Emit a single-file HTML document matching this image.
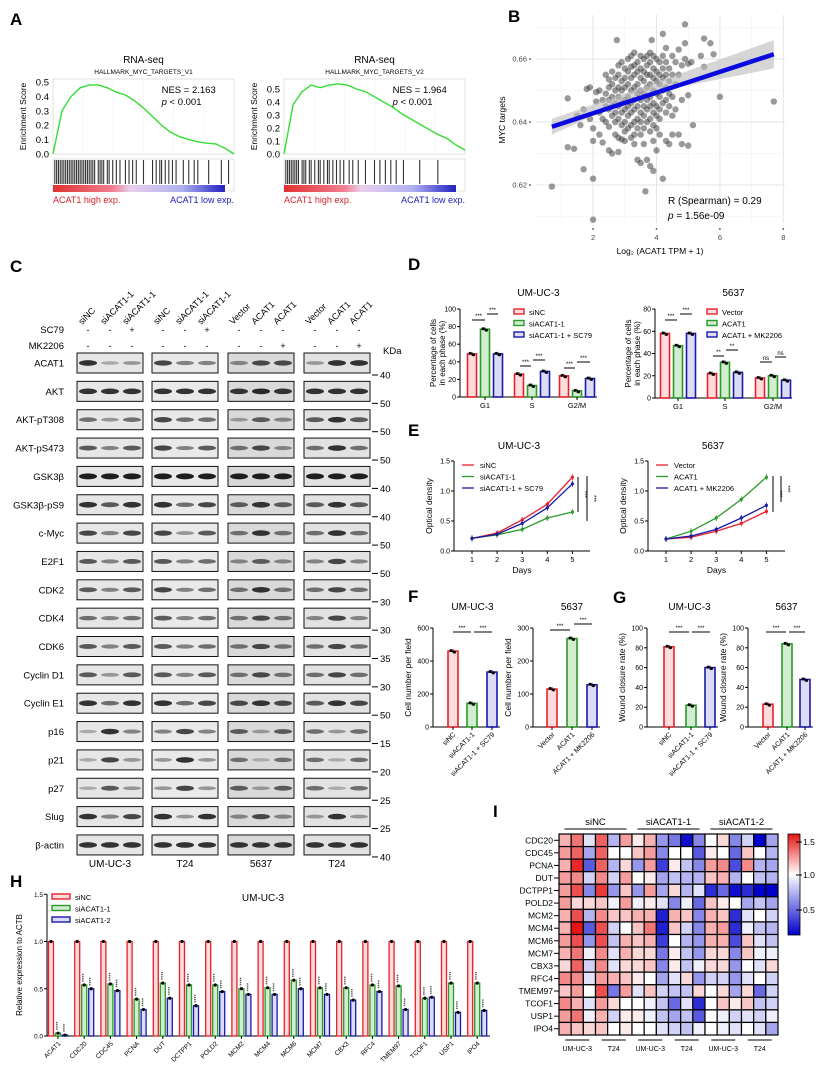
<!DOCTYPE html>
<html><head><meta charset="utf-8">
<style>
html,body{margin:0;padding:0;background:#fff;}
svg{display:block;font-family:"Liberation Sans",Arial,sans-serif;}
</style></head>
<body>
<svg id="fig" width="824" height="1076" viewBox="0 0 824 1076" xmlns="http://www.w3.org/2000/svg">
<rect width="824" height="1076" fill="#fff"/>
<g font-weight="bold" font-size="17" fill="#000">
<text x="10" y="25">A</text>
<text x="508" y="22">B</text>
<text x="10" y="272">C</text>
<text x="408" y="270">D</text>
<text x="408" y="436">E</text>
<text x="408" y="602">F</text>
<text x="613" y="603">G</text>
<text x="10" y="887">H</text>
<text x="493" y="817">I</text>
</g>
<g id="root"></g>
</svg>
<script>
// ---------- DATA ----------
const gseaES1 = [0,0.30,0.40,0.46,0.48,0.48,0.46,0.43,0.41,0.37,0.32,0.26,0.20,0.15,0.12,0.10,0.085,0.075,0.07,0.04,0.0];
const gseaES2 = [0,0.38,0.48,0.53,0.51,0.53,0.54,0.53,0.50,0.48,0.44,0.40,0.36,0.31,0.27,0.23,0.19,0.15,0.12,0.07,0.03];
const gseaHits1 = [0.01,0.02,0.03,0.04,0.05,0.06,0.07,0.08,0.09,0.10,0.11,0.12,0.13,0.14,0.15,0.16,0.17,0.18,0.19,0.2,0.21,0.22,0.23,0.25,0.26,0.27,0.28,0.3,0.31,0.33,0.35,0.37,0.4,0.42,0.44,0.46,0.5,0.55,0.57,0.59,0.6,0.62,0.64,0.66,0.68,0.72,0.75,0.78,0.8,0.86,0.93,0.97];
const gseaHits2 = [0.01,0.02,0.03,0.04,0.05,0.06,0.07,0.08,0.1,0.11,0.12,0.14,0.15,0.17,0.19,0.2,0.22,0.24,0.25,0.27,0.29,0.31,0.33,0.36,0.38,0.41,0.45,0.5,0.53,0.56,0.59,0.62,0.66,0.75,0.85];
const scatterX = [0.7,1.2,1.2,1.4,1.5,1.6,1.7,1.7,1.8,1.9,1.9,2.0,2.0,2.0,2.0,2.1,2.1,2.2,2.2,2.2,2.3,2.3,2.3,2.4,2.4,2.4,2.4,2.5,2.5,2.5,2.5,2.5,2.5,2.6,2.6,2.6,2.6,2.6,2.6,2.7,2.7,2.7,2.7,2.7,2.7,2.8,2.8,2.8,2.8,2.8,2.8,2.8,2.8,2.75,2.9,2.9,2.9,2.9,2.9,2.9,2.9,3.0,3.0,3.0,3.0,3.0,3.0,3.0,3.0,3.1,3.1,3.1,3.1,3.1,3.1,3.1,3.2,3.2,3.2,3.2,3.2,3.2,3.2,3.2,3.3,3.3,3.3,3.3,3.3,3.3,3.3,3.3,3.3,3.4,3.4,3.4,3.4,3.4,3.4,3.4,3.4,3.5,3.5,3.5,3.5,3.5,3.5,3.5,3.5,3.5,3.6,3.6,3.6,3.6,3.6,3.6,3.6,3.6,3.65,3.7,3.7,3.7,3.7,3.7,3.7,3.7,3.7,3.8,3.8,3.8,3.8,3.8,3.8,3.8,3.8,3.8,3.85,3.9,3.9,3.9,3.9,3.9,3.9,3.9,3.9,3.9,4.0,4.0,4.0,4.0,4.0,4.0,4.0,4.0,4.1,4.1,4.1,4.1,4.1,4.1,4.1,4.2,4.2,4.2,4.2,4.2,4.2,4.2,4.3,4.3,4.3,4.3,4.3,4.3,4.3,4.4,4.4,4.4,4.4,4.4,4.5,4.5,4.5,4.5,4.5,4.6,4.6,4.6,4.7,4.7,4.7,4.8,4.8,4.8,4.9,4.9,4.9,5.0,5.0,5.0,5.1,5.15,5.4,5.5,5.5,5.7,5.8,6.0,7.7];
const scatterY = [0.6195,0.6475,0.632,0.6315,0.642,0.639,0.644,0.625,0.6505,0.651,0.641,0.638,0.634,0.622,0.609,0.6495,0.6465,0.650,0.643,0.636,0.647,0.641,0.6335,0.655,0.649,0.645,0.640,0.6535,0.651,0.647,0.644,0.6385,0.631,0.656,0.652,0.648,0.645,0.642,0.630,0.654,0.650,0.646,0.643,0.640,0.636,0.658,0.655,0.651,0.648,0.645,0.641,0.635,0.6305,0.666,0.659,0.653,0.650,0.646,0.643,0.639,0.6345,0.657,0.654,0.651,0.647,0.644,0.640,0.637,0.634,0.660,0.656,0.652,0.648,0.645,0.642,0.638,0.661,0.6575,0.654,0.650,0.646,0.643,0.639,0.635,0.662,0.658,0.655,0.651,0.647,0.644,0.640,0.636,0.633,0.659,0.656,0.652,0.649,0.645,0.641,0.638,0.628,0.661,0.657,0.654,0.650,0.647,0.643,0.640,0.636,0.627,0.660,0.656,0.653,0.649,0.645,0.642,0.638,0.633,0.618,0.661,0.658,0.655,0.651,0.647,0.644,0.640,0.628,0.662,0.659,0.655,0.652,0.648,0.645,0.641,0.637,0.626,0.666,0.661,0.657,0.654,0.650,0.646,0.643,0.639,0.634,0.6245,0.660,0.656,0.653,0.649,0.645,0.642,0.638,0.631,0.659,0.655,0.652,0.648,0.644,0.641,0.636,0.668,0.661,0.657,0.654,0.650,0.646,0.622,0.6635,0.659,0.655,0.651,0.647,0.643,0.634,0.657,0.653,0.649,0.645,0.633,0.661,0.655,0.648,0.642,0.636,0.659,0.652,0.644,0.663,0.655,0.636,0.658,0.647,0.633,0.665,0.671,0.660,0.6585,0.6485,0.6325,0.659,0.639,0.661,0.6575,0.6665,0.665,0.6615,0.648,0.6465];
const fitLine = [[0.7,0.6385],[7.7,0.6615]];

const blotRows = ["ACAT1","AKT","AKT-pT308","AKT-pS473","GSK3β","GSK3β-pS9","c-Myc","E2F1","CDK2","CDK4","CDK6","Cyclin D1","Cyclin E1","p16","p21","p27","Slug","β-actin"];
const blotMW = [40,50,50,50,40,40,50,50,30,30,35,30,50,15,20,25,25,40];
const blotInt = [
[.9,.3,.4,.8,.5,.5,.5,.8,.8,.4,.9,.9],[.9,.9,.9,.9,.9,.9,.9,.95,.9,.9,.9,.9],
[.6,.4,.6,.8,.6,.6,.4,.7,.5,.7,.9,.7],[.7,.5,.7,.8,.5,.7,.6,.8,.5,.6,.9,.6],
[1,1,1,1,1,1,1,1,1,1,1,1],[.9,.7,.9,.9,.6,.8,.7,.9,.7,.7,.9,.7],
[.8,.5,.8,.8,.4,.7,.6,.9,.6,.6,.9,.6],[.7,.5,.7,.7,.5,.6,.5,.7,.5,.5,.8,.5],
[.7,.5,.7,.8,.5,.6,.6,.9,.6,.6,.8,.6],[.6,.5,.6,.7,.5,.6,.6,.8,.6,.5,.8,.5],
[.7,.5,.7,.7,.5,.6,.6,.8,.6,.6,.8,.6],[.7,.4,.7,.7,.5,.7,.6,.8,.6,.6,.8,.6],
[.9,.6,.9,.9,.6,.8,.8,.9,.8,.7,.9,.8],[.3,.9,.5,.5,.8,.5,.7,.4,.7,.6,.4,.6],
[.3,.8,.4,.4,.9,.4,.6,.3,.6,.6,.3,.6],[.3,.7,.4,.4,.8,.4,.7,.4,.7,.6,.3,.6],
[.9,.5,.8,.9,.4,.9,.5,.8,.5,.4,.9,.4],[.9,.9,.9,.9,.9,.9,.9,.9,.9,.9,.9,.9]];
const laneLabels = ["siNC","siACAT1-1","siACAT1-1","siNC","siACAT1-1","siACAT1-1","Vector","ACAT1","ACAT1","Vector","ACAT1","ACAT1"];
const sc79 = ["-","-","+","-","-","+","-","-","-","-","-","-"];
const mk2206 = ["-","-","-","-","-","-","-","-","+","-","-","+"];
const cellLines = ["UM-UC-3","T24","5637","T24"];

const phases = ["G1","S","G2/M"];
const dUMUC3 = [[49,26,24],[77,13,7],[49,29,21]];
const d5637 = [[58,22,18],[47,32,20],[58,23,16]];

const days = [1,2,3,4,5];
const eUMUC3 = [[0.21,0.30,0.52,0.78,1.23],[0.21,0.27,0.36,0.55,0.65],[0.21,0.28,0.46,0.72,1.12]];
const e5637 = [[0.20,0.23,0.33,0.46,0.66],[0.20,0.33,0.55,0.86,1.23],[0.20,0.25,0.36,0.55,0.76]];

const fUMUC3 = [460,143,333];
const f5637 = [115,268,128];
const gUMUC3 = [81,22,60];
const g5637 = [23,84,48];

const hGenes = ["ACAT1","CDC20","CDC45","PCNA","DUT","DCTPP1","POLD2","MCM2","MCM4","MCM6","MCM7","CBX3","RFC4","TMEM97","TCOF1","USP1","IPO4"];
const hSiNC = [1,1,1,1,1,1,1,1,1,1,1,1,1,1,1,1,1];
const hSi1 = [0.03,0.54,0.55,0.39,0.56,0.54,0.54,0.50,0.51,0.59,0.51,0.51,0.54,0.53,0.40,0.56,0.56];
const hSi2 = [0.01,0.50,0.48,0.28,0.40,0.32,0.47,0.44,0.44,0.50,0.44,0.38,0.47,0.28,0.41,0.25,0.27];

const heatGenes = ["CDC20","CDC45","PCNA","DUT","DCTPP1","POLD2","MCM2","MCM4","MCM6","MCM7","CBX3","RFC4","TMEM97","TCOF1","USP1","IPO4"];
const heatVals = [
[1.2,1.35,0.9,1.4,0.75,1.25,1.05,1.2,0.65,0.55,0.2,0.6,1.0,1.1,0.6,0.85,0.15,0.7],
[1.25,1.4,0.7,1.4,1.0,1.0,1.15,1.25,0.6,1.0,1.0,0.45,1.05,1.0,0.5,1.15,1.0,0.75],
[1.2,1.55,0.45,1.4,0.75,1.1,0.65,1.25,0.35,1.05,0.8,0.6,1.25,1.3,0.4,1.3,0.75,0.7],
[1.25,1.3,0.85,1.3,0.85,1.25,1.0,1.05,0.7,0.8,0.75,0.75,1.15,1.2,0.75,1.0,0.8,0.75],
[1.25,1.45,0.6,1.5,0.65,1.15,0.65,1.25,0.7,1.1,0.75,0.9,0.3,0.5,0.2,0.3,0.15,0.15],
[1.25,1.1,1.1,1.15,0.95,1.25,0.95,1.05,0.9,0.6,0.95,0.5,1.15,1.05,1.0,0.7,0.8,0.7],
[1.2,1.45,0.75,1.3,1.15,1.15,1.2,1.2,0.25,1.2,1.15,0.6,1.2,1.15,0.3,0.9,1.0,0.85],
[1.2,1.6,0.45,1.45,0.85,1.0,1.15,1.35,0.25,1.15,0.85,0.6,1.2,1.25,0.3,0.95,0.8,0.75],
[1.25,1.45,0.65,1.45,0.8,1.2,1.15,1.2,0.35,1.0,0.75,0.65,1.2,1.2,0.4,1.15,0.9,0.8],
[1.2,1.35,0.95,1.3,0.9,1.2,1.1,1.1,0.55,1.05,0.8,0.65,1.1,1.1,0.6,1.15,0.95,0.95],
[1.1,1.4,0.85,1.3,0.9,1.1,1.1,1.15,0.6,1.05,0.8,0.95,1.1,1.1,0.65,1.0,0.9,1.1],
[1.3,1.3,0.9,1.25,1.2,1.15,1.05,1.0,0.7,0.9,1.1,0.65,0.85,0.85,0.65,0.9,1.0,0.85],
[1.15,1.25,1.0,1.45,0.55,1.25,0.9,1.15,0.85,0.8,0.8,1.1,1.0,1.1,0.7,1.1,0.5,0.85],
[1.3,1.2,0.9,1.25,1.1,1.0,1.0,0.95,0.8,0.5,0.9,0.3,1.0,1.15,1.05,1.15,0.8,0.85],
[1.25,1.35,0.95,1.2,0.85,1.05,1.05,0.95,0.8,0.7,0.8,0.45,1.0,0.95,0.85,0.9,0.85,0.95],
[1.2,1.15,1.1,1.15,1.0,1.05,1.0,1.0,0.9,0.85,0.8,0.95,1.0,0.95,0.9,1.0,0.9,0.7]];
const heatGroups = ["siNC","siACAT1-1","siACAT1-2"];

// ---------- HELPERS ----------
const NS = "http://www.w3.org/2000/svg";
const root = document.getElementById("root");
function mk(tag, attrs, parent){ const e=document.createElementNS(NS,tag); for(const k in attrs) e.setAttribute(k,attrs[k]); (parent||root).appendChild(e); return e; }
function tx(x,y,s,size,anchor,parent,fill,rot){ const e=mk("text",{x:x,y:y,"font-size":size,"text-anchor":anchor||"start",fill:fill||"#000"},parent); if(rot!==undefined) e.setAttribute("transform","rotate("+rot+" "+x+" "+y+")"); e.textContent=s; return e; }
const RED="#e8202a", GREEN="#2a9a2a", BLUE="#1a1aa8";
const COLS=[RED,GREEN,BLUE], TINT=["#fcdcdc","#d2ecd0","#dcdcf6"];

// ---------- PANEL A ----------
function gsea(x0,x1,yTop,zeroY,pxPer,maxT,es,hits,title,sub,nes,name){
  const g=mk("g",{});
  
  
  let t=tx((x0+x1)/2,63,title,10,"middle",g);  
  t=tx((x0+x1)/2,74,sub,6.5,"middle",g);  
  const box=mk("rect",{x:x0,y:yTop,width:x1-x0,height:zeroY-yTop,fill:"#fff",stroke:"#ccc","stroke-width":0.6},g);
   
  for(let i=1;i<6;i++){ const gl=mk("line",{x1:x0+(x1-x0)*i/6,x2:x0+(x1-x0)*i/6,y1:yTop,y2:zeroY,stroke:"#eee","stroke-width":0.5},g);   }
  for(let v=0;v<=maxT+1e-9;v+=0.1){ const y=zeroY-v*pxPer;
    const lb=tx(x0-4,y+3.5,v.toFixed(1),9.5,"end",g);   }
  const yl=tx(x0-27,(yTop+zeroY)/2,"Enrichment Score",8.5,"middle",g,"#000",-90);  
  const pts=es.map((v,i)=>(x0+(x1-x0)*i/(es.length-1)).toFixed(1)+","+(zeroY-v*pxPer).toFixed(1)).join(" ");
  const pl=mk("polyline",{points:pts,fill:"none",stroke:"#33dd33","stroke-width":1.4},g);  
  const bb=mk("rect",{x:x0,y:zeroY+5,width:x1-x0,height:32,fill:"#fff",stroke:"#ccc","stroke-width":0.6},g);  
  hits.forEach(h=>{ const xx=x0+(x1-x0)*h; const l=mk("line",{x1:xx,x2:xx,y1:zeroY+6,y2:zeroY+30,stroke:"#333","stroke-width":1.1},g);   });
  const gid="grad"+name; const defs=mk("defs",{},g); const lg=mk("linearGradient",{id:gid},defs);
  mk("stop",{offset:"0","stop-color":"#e03030"},lg); mk("stop",{offset:"0.35","stop-color":"#f08090"},lg); mk("stop",{offset:"0.45","stop-color":"#e8d0ec"},lg); mk("stop",{offset:"0.75","stop-color":"#b0b0f0"},lg); mk("stop",{offset:"1","stop-color":"#2020c0"},lg);
  const cs=mk("rect",{x:x0,y:zeroY+31,width:(x1-x0)*0.95,height:7,fill:"url(#"+gid+")"},g);  
  t=tx(x0,zeroY+49,"ACAT1 high exp.",9,"start",g,"#d8202a");  
  t=tx(x1,zeroY+49,"ACAT1 low exp.",9,"end",g,"#1a1ac0");  
  t=tx(x0+(x1-x0)*0.6,yTop+14,"NES = "+nes,9.5,"start",g);  
  t=mk("text",{x:x0+(x1-x0)*0.6,y:yTop+26,"font-size":9.5},g); t.innerHTML='<tspan font-style="italic">p</tspan> &lt; 0.001';  
}
gsea(53,234,79,154,144,0.5,gseaES1,gseaHits1,"RNA-seq","HALLMARK_MYC_TARGETS_V1","2.163","gsea-plot-v1");
gsea(284,465,79,154,130,0.5,gseaES2,gseaHits2,"RNA-seq","HALLMARK_MYC_TARGETS_V2","1.964","gsea-plot-v2");

// ---------- PANEL B ----------
(function(){
  const g=mk("g",{});  
  const sx=v=>529.7+v*31.7, sy=v=>122-(v-0.64)*3150;
  const L=536,R=785,T=15,B=223;
  [1,2,3,4,5,6,7,8].forEach(v=>{ const l=mk("line",{x1:sx(v),x2:sx(v),y1:T,y2:B,stroke:v%2?"#f0f0f0":"#e4e4e4","stroke-width":v%2?0.6:1},g);   });
  [0.61,0.62,0.63,0.64,0.65,0.66,0.67].forEach((v,i)=>{ const l=mk("line",{x1:L,x2:R,y1:sy(v),y2:sy(v),stroke:i%2?"#e4e4e4":"#f0f0f0","stroke-width":i%2?1:0.6},g);   });
  [0.62,0.64,0.66].forEach(v=>{ const t=tx(L-9,sy(v)+2.5,v.toFixed(2),7.5,"end",g,"#444");  
    const d=mk("circle",{cx:L-6,cy:sy(v),r:0.9,fill:"#444"},g);   });
  [2,4,6,8].forEach(v=>{ const t=tx(sx(v),240,String(v),7.5,"middle",g,"#444");  
    const d=mk("circle",{cx:sx(v),cy:B+6,r:0.9,fill:"#444"},g);   });
  let t=tx(660,254,"Log₂ (ACAT1 TPM + 1)",8.5,"middle",g);  
  t=tx(505,120,"MYC targets",8.5,"middle",g,"#000",-90);  
  scatterX.forEach((xv,i)=>{ const c=mk("circle",{cx:sx(xv),cy:sy(scatterY[i]),r:3.2,fill:"#333","fill-opacity":0.5},g);   });
  const a=fitLine[0], b=fitLine[1];
  const band=mk("polygon",{points:[sx(a[0]),sy(a[1]+0.0025),sx((a[0]+b[0])/2-0.8),sy(0.6495+0.001),sx(b[0]),sy(b[1]+0.0045),sx(b[0]),sy(b[1]-0.0045),sx((a[0]+b[0])/2-0.8),sy(0.6495-0.001),sx(a[0]),sy(a[1]-0.0025)].join(" "),fill:"#bbb","fill-opacity":0.6},g);
   
  const ln=mk("line",{x1:sx(a[0]),y1:sy(a[1]),x2:sx(b[0]),y2:sy(b[1]),stroke:"#0a0ae0","stroke-width":4.5},g);  
  t=tx(668,204,"R (Spearman) = 0.29",10,"start",g);  
  t=mk("text",{x:668,y:219,"font-size":10},g); t.innerHTML='<tspan font-style="italic">p</tspan> = 1.56e-09';  
})();

// ---------- PANEL C ----------
(function(){
  const g=mk("g",{});  
  const gx=[77,152,228,304], gw=66, y0=353, pitch=28.35, bh=20;
  const bg=["#e6e6e6","#e9e9e9","#d9d9d9","#e2e2e2"];
  const laneX=i=>gx[Math.floor(i/3)]+gw*(1+2*(i%3))/6;
  laneLabels.forEach((s,i)=>{ const t=tx(laneX(i)-6,325,s,9,"start",g,"#000",-45);   });
  let t=tx(64,333,"SC79",9.5,"end",g);  
  t=tx(64,349,"MK2206",9.5,"end",g);  
  sc79.forEach((s,i)=>{ const e=tx(laneX(i),333,s,9,"middle",g);   });
  mk2206.forEach((s,i)=>{ const e=tx(laneX(i),349,s,9,"middle",g);   });
  t=tx(383,354,"KDa",9.5,"start",g);  
  blotRows.forEach((name,r)=>{
    const y=y0+r*pitch;
    const lb=tx(64,y+13.5,name,9.5,"end",g);  
    gx.forEach((x,k)=>{ const b=mk("rect",{x:x,y:y,width:gw,height:bh,fill:bg[k],stroke:"#111","stroke-width":1},g);   });
    blotInt[r].forEach((v,i)=>{ const c=Math.round(230-v*200); const e=mk("ellipse",{cx:laneX(i),cy:y+bh/2,rx:9,ry:1.2+v*1.8,fill:"rgb("+c+","+c+","+c+")"},g);   });
    const tk=mk("line",{x1:372,x2:378,y1:y+bh+2,y2:y+bh+2,stroke:"#000","stroke-width":1},g);  
    const mw=tx(380,y+bh+5.5,String(blotMW[r]),9.5,"start",g);  
  });
  cellLines.forEach((s,k)=>{ const e=tx(gx[k]+gw/2,867,s,10,"middle",g);   });
})();

// ---------- generic axis ----------
function yAxis(g,x,y0,y1,ticks,fmt,scale,fs){
  const a=mk("line",{x1:x,x2:x,y1:y1,y2:y0,stroke:"#000","stroke-width":1},g);  
  ticks.forEach(v=>{ const y=scale(v); const l=mk("line",{x1:x-3,x2:x,y1:y,y2:y,stroke:"#000","stroke-width":1},g);  
    const t=tx(x-4,y+2.5,fmt(v),fs||7,"end",g);   });
}
function sig(g,x1,x2,y,s){ const l=mk("line",{x1:x1,x2:x2,y1:y,y2:y,stroke:"#000","stroke-width":1},g);  
  const t=tx((x1+x2)/2,y-2,s,6,"middle",g);   }
function bar(g,cx,w,y0,y,ci){ const r=mk("rect",{x:cx-w/2,y:y,width:w,height:y0-y,fill:TINT[ci],stroke:COLS[ci],"stroke-width":1.6},g);  
  const e=mk("line",{x1:cx,x2:cx,y1:y-2,y2:y+2,stroke:"#000","stroke-width":0.8},g);  
  [-2,1.5].forEach(o=>{ const d=mk("circle",{cx:cx+o,cy:y+(o>0?1:-0.5),r:1.5,fill:"#000"},g);   }); }
function legend(g,x,y,labels,fs,sw){ labels.forEach((s,i)=>{ const r=mk("rect",{x:x,y:y+i*11.5-5,width:sw||10,height:5,fill:TINT[i],stroke:COLS[i],"stroke-width":1.4},g);  
  const t=tx(x+(sw||10)+5,y+i*11.5+1,s,fs||7.5,"start",g);   }); }

// ---------- PANEL D ----------
function phaseChart(name,ax,x1,y0,top,maxV,ticks,centers,data,title,labels,sigs){
  const g=mk("g",{});  
  const sc=v=>y0-v*(y0-top)/maxV;
  let t=tx((ax+x1)/2+10,296,title,10,"middle",g);  
  yAxis(g,ax,y0,top,ticks,v=>String(v),sc,7);
  const xa=mk("line",{x1:ax,x2:x1,y1:y0,y2:y0,stroke:"#000","stroke-width":1},g);  
  phases.forEach((p,pi)=>{ const cx=centers[pi];
    for(let s=0;s<3;s++) bar(g,cx+(s-1)*13,9,y0,sc(data[s][pi]),s);
    const tk=mk("line",{x1:cx,x2:cx,y1:y0,y2:y0+3,stroke:"#000"},g);  
    t=tx(cx,y0+11,p,7.5,"middle",g);   });
  t=tx(ax-24,(y0+top)/2,"Percentage of cells",8,"middle",g,"#000",-90);  
  t=tx(ax-15,(y0+top)/2,"in each phase (%)",8,"middle",g,"#000",-90);  
  legend(g,centers[1]-18,314,labels,7.5);
  sigs.forEach(s=>sig(g,s[0],s[1],s[2],s[3]));
}
phaseChart("cell-cycle-umuc3",460,597,397,309,100,[0,20,40,60,80,100],[485,532,577],dUMUC3,"UM-UC-3",["siNC","siACAT1-1","siACAT1-1 + SC79"],
 [[472,485,320,"***"],[487,498,314,"***"],[520,531,366,"***"],[533,545,360,"***"],[564,575,368,"***"],[577,590,362,"***"]]);
phaseChart("cell-cycle-5637",655,792,398,309,80,[0,20,40,60,80],[678,725,773],d5637,"5637",["Vector","ACAT1","ACAT1 + MK2206"],
 [[665,677,320,"***"],[680,692,314,"***"],[713,724,356,"**"],[726,738,350,"**"],[760,772,362,"ns"],[775,786,357,"ns"]]);

// ---------- PANEL E ----------
function growth(name,ax,xr,x1day,title,data,labels,sigs){
  const g=mk("g",{});  
  const y0=551, sy=v=>y0-v*60, sx=d=>x1day+(d-1)*25.1;
  let t=tx(ax+65,449,title,10,"middle",g);  
  yAxis(g,ax,y0,461,[0,0.5,1,1.5],v=>v.toFixed(1),sy,7);
  const xa=mk("line",{x1:ax,x2:xr,y1:y0,y2:y0,stroke:"#000"},g);  
  days.forEach(d=>{ const k=mk("line",{x1:sx(d),x2:sx(d),y1:y0,y2:y0+3,stroke:"#000"},g);  
    const l=tx(sx(d),y0+11,String(d),7.5,"middle",g);   });
  t=tx((ax+xr)/2,y0+22,"Days",8.5,"middle",g);  
  t=tx(ax-22,y0-45,"Optical density",8.5,"middle",g,"#000",-90);  
  data.forEach((ser,s)=>{ const pl=mk("polyline",{points:ser.map((v,i)=>sx(days[i])+","+sy(v)).join(" "),fill:"none",stroke:COLS[s],"stroke-width":1.3},g);
     
    ser.forEach((v,i)=>{ const p=mk("circle",{cx:sx(days[i]),cy:sy(v),r:1.6,fill:COLS[s]},g);  
      const e=mk("line",{x1:sx(days[i]),x2:sx(days[i]),y1:sy(v)-3,y2:sy(v)+3,stroke:COLS[s],"stroke-width":0.8},g);   }); });
  labels.forEach((s,i)=>{ const l=mk("line",{x1:ax+8,x2:ax+20,y1:465+i*11.5,y2:465+i*11.5,stroke:COLS[i],"stroke-width":1.3},g);  
    const tt=tx(ax+26,468+i*11.5,s,7.5,"start",g);   });
  sigs.forEach(s=>{ const l=mk("line",{x1:s[0],x2:s[0],y1:s[1],y2:s[2],stroke:"#000"},g);  
    const tt=tx(s[0]+5,(s[1]+s[2])/2,"***",6,"middle",g,"#000",90);   });
}
growth("growth-umuc3",454,590,472,"UM-UC-3",eUMUC3,["siNC","siACAT1-1","siACAT1-1 + SC79"],[[578,477,512],[587,476,521]]);
growth("growth-5637",648,785,666,"5637",e5637,["Vector","ACAT1","ACAT1 + MK2206"],[[773,476,512],[781,476,502]]);

// ---------- PANELS F & G ----------
function smallBar(name,ax,centers,maxV,ticks,vals,title,cats,ytitle,sigs){
  const g=mk("g",{});  
  const y0=727, top=628, sc=v=>y0-v*(y0-top)/maxV;
  let t=tx((centers[0]+centers[2])/2,610,title,10,"middle",g);  
  yAxis(g,ax,y0,top,ticks,v=>String(v),sc,7);
  const xa=mk("line",{x1:ax,x2:centers[2]+8,y1:y0,y2:y0,stroke:"#000"},g);  
  t=tx(ax-22,(y0+top)/2,ytitle,8.5,"middle",g,"#000",-90);  
  vals.forEach((v,i)=>{ bar(g,centers[i],10,y0,sc(v),i);
    const k=mk("line",{x1:centers[i],x2:centers[i],y1:y0,y2:y0+3,stroke:"#000"},g);  
    const l=tx(centers[i]+3,y0+8,cats[i],7,"end",g,"#000",-45);   });
  sigs.forEach(s=>sig(g,s[0],s[1],s[2],"***"));
}
smallBar("cell-number-umuc3",433,[453,472,492],600,[0,200,400,600],fUMUC3,"UM-UC-3",["siNC","siACAT1-1","siACAT1-1 + SC79"],"Cell number per field",[[453,471,632],[474,492,632]]);
smallBar("cell-number-5637",533,[552,572,592],300,[0,100,200,300],f5637,"5637",["Vector","ACAT1","ACAT1 + MK2206"],"Cell number per field",[[550,570,630],[574,592,624]]);
smallBar("wound-closure-umuc3",647,[669,691,710],100,[0,20,40,60,80,100],gUMUC3,"UM-UC-3",["siNC","siACAT1-1","siACAT1-1 + SC79"],"Wound closure rate (%)",[[669,689,632],[692,710,632]]);
smallBar("wound-closure-5637",748,[768,787,805],100,[0,20,40,60,80,100],g5637,"5637",["Vector","ACAT1","ACAT1 + MK2206"],"Wound closure rate (%)",[[766,786,632],[789,805,632]]);

// ---------- PANEL H ----------
(function(){
  const g=mk("g",{});  
  const ax=47, y0=1036, sc=v=>y0-v*94.5, gx=i=>51+i*26.2;
  let t=tx(263,901,"UM-UC-3",10,"middle",g);  
  yAxis(g,ax,y0,sc(1.5),[0,0.5,1,1.5],v=>v.toFixed(1),sc,6.5);
  const xa=mk("line",{x1:ax,x2:490,y1:y0,y2:y0,stroke:"#000"},g);  
  t=tx(22,965,"Relative expression to ACTB",8,"middle",g,"#000",-90);  
  const series=[hSiNC,hSi1,hSi2];
  hGenes.forEach((gn,i)=>{
    series.forEach((ser,s)=>{ const cx=gx(i)+s*7; const y=sc(ser[i]);
      const r=mk("rect",{x:cx-2.5,y:y,width:5,height:y0-y,fill:TINT[s],stroke:COLS[s],"stroke-width":1.3},g);  
      const d=mk("circle",{cx:cx,cy:y,r:1.6,fill:"#000"},g);  
      if(s>0){ const st=tx(cx+2,y-3,"****",5.5,"start",g,"#000",-90);   } });
    const k=mk("line",{x1:gx(i)+7,x2:gx(i)+7,y1:y0,y2:y0+3,stroke:"#000"},g);  
    const l=tx(gx(i)+10,y0+8,gn,6.5,"end",g,"#000",-45);  
  });
  legend(g,52,899,["siNC","siACAT1-1","siACAT1-2"],7.5,18);
})();

// ---------- PANEL I ----------
(function(){
  const g=mk("g",{});  
  const x0=559, y0=834, cw=(778-559)/18, ch=(1035-834)/16;
  function col(v){ if(v>=1){ const f=Math.min(1,(v-1)/0.6); return "rgb("+Math.round(255-f*25)+","+Math.round(255-f*235)+","+Math.round(255-f*235)+")"; }
    const f=Math.min(1,(1-v)/0.85); return "rgb("+Math.round(255-f*255)+","+Math.round(255-f*255)+","+Math.round(255-f*50)+")"; }
  heatVals.forEach((row,r)=>{
    row.forEach((v,c)=>{ const rc=mk("rect",{x:x0+c*cw,y:y0+r*ch,width:cw,height:ch,fill:col(v),stroke:"#000","stroke-width":1.2},g);   });
    const k=mk("line",{x1:x0-5,x2:x0,y1:y0+(r+0.5)*ch,y2:y0+(r+0.5)*ch,stroke:"#000"},g);  
    const l=tx(x0-6,y0+(r+0.5)*ch+3,heatGenes[r],8.5,"end",g);  
  });
  heatGroups.forEach((s,k)=>{ const cx=x0+(k*6+3)*cw;
    const l=mk("line",{x1:cx-31,x2:cx+31,y1:829,y2:829,stroke:"#000"},g);  
    const t=tx(cx,825,s,9.5,"middle",g);  
    ["UM-UC-3","T24"].forEach((c,j)=>{ const sx=x0+(k*6+j*3+1.5)*cw;
      const b=mk("line",{x1:sx-12,x2:sx+12,y1:1040,y2:1040,stroke:"#000"},g);  
      const tt=tx(sx,1051,c,7,"middle",g);   }); });
  const defs=mk("defs",{},g); const lg=mk("linearGradient",{id:"cbar",x1:0,y1:0,x2:0,y2:1},defs);
  mk("stop",{offset:"0","stop-color":"#e61414"},lg); mk("stop",{offset:"0.4","stop-color":"#ffffff"},lg); mk("stop",{offset:"1","stop-color":"#0000cc"},lg);
  const cb=mk("rect",{x:788,y:834,width:12,height:101,fill:"url(#cbar)",stroke:"#000","stroke-width":0.8},g);  
  [[1.5,842],[1.0,875],[0.5,910]].forEach(p=>{ const k=mk("line",{x1:796,x2:802,y1:p[1],y2:p[1],stroke:"#000"},g);  
    const t=tx(803,p[1]+3,p[0].toFixed(1),8.5,"start",g);   });
})();
</script>
</body></html>
